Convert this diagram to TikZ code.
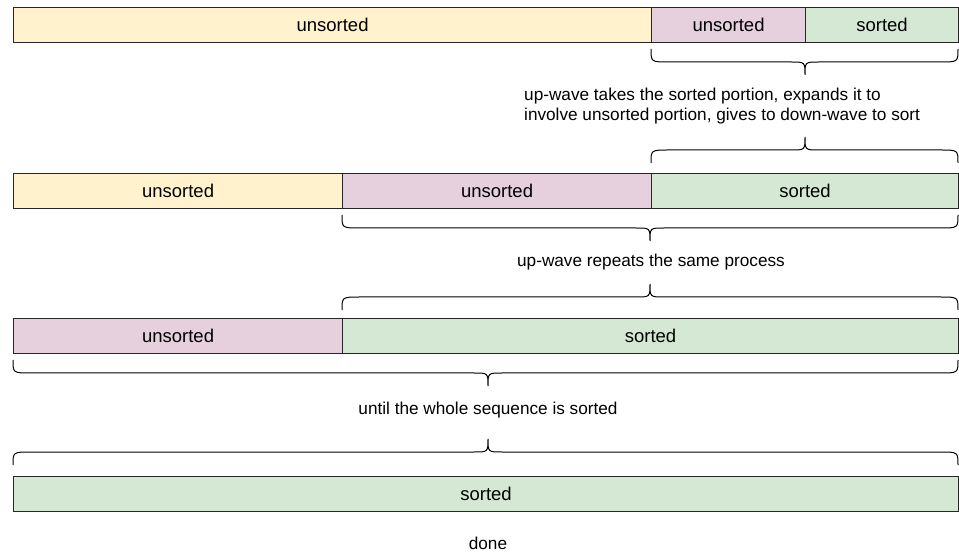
\documentclass[tikz,border=0pt]{standalone}
\usepackage{fontspec}
\setmainfont{Liberation Sans}
\definecolor{cyel}{HTML}{FFF2CC}
\definecolor{cpink}{HTML}{E6D0DE}
\definecolor{cgreen}{HTML}{D5E8D4}
\newcommand{\mybrace}[5]{%
  \draw[bracestyle] (#1,#4) .. controls (#1,{#4+13*(#5)}) .. ({#1+18},{#4+13*(#5)})
    -- ({#3-14},{#4+13*(#5)}) .. controls (#3,{#4+13*(#5)}) .. (#3,{#4+26*(#5)})
    .. controls (#3,{#4+13*(#5)}) .. ({#3+14},{#4+13*(#5)})
    -- ({#2-18},{#4+13*(#5)}) .. controls (#2,{#4+13*(#5)}) .. (#2,#4);}
\begin{document}
\begin{tikzpicture}[x=1pt,y=-1pt,
  seg/.style={draw=black!85, line width=1.1pt, minimum height=35pt, inner sep=0pt,
    anchor=north west, font=\fontsize{18.5}{20}\selectfont},
  uns/.style={seg, fill=cyel},
  mid/.style={seg, fill=cpink},
  srt/.style={seg, fill=cgreen},
  bracestyle/.style={draw=black, line width=1pt},
  captxt/.style={font=\fontsize{17.2}{20}\selectfont, inner sep=0pt}]
\useasboundingbox (0,0) rectangle (959,553);
% row 1
\node[uns, minimum width=638pt] (r1a) at (13,7) {unsorted};
\node[mid, minimum width=154pt] (r1b) at (651,7) {unsorted};
\node[srt, minimum width=153pt] (r1c) at (805,7) {sorted};
% row 2
\node[uns, minimum width=329pt] (r2a) at (13,173) {unsorted};
\node[mid, minimum width=309pt] (r2b) at (342,173) {unsorted};
\node[srt, minimum width=307pt] (r2c) at (651,173) {sorted};
% row 3
\node[mid, minimum width=329pt] (r3a) at (13,318) {unsorted};
\node[srt, minimum width=616pt] (r3b) at (342,318) {sorted};
% row 4
\node[srt, minimum width=945pt] (r4a) at (13,476) {sorted};
% braces
\mybrace{651}{958}{805}{49}{1}
\mybrace{651}{958}{805}{163}{-1}
\mybrace{342}{958}{650}{215}{1}
\mybrace{342}{958}{650}{310}{-1}
\mybrace{13}{958}{488}{360}{1}
\mybrace{13}{958}{488}{465}{-1}
% captions
\node[captxt, align=left, anchor=west] (c1) at (524,106) {up-wave takes the sorted portion, expands it to\\involve unsorted portion, gives to down-wave to sort};
\node[captxt] (c2) at (651,262) {up-wave repeats the same process};
\node[captxt] (c3) at (488,410) {until the whole sequence is sorted};
\node[captxt] (c4) at (488,543) {done};
\end{tikzpicture}
\end{document}
